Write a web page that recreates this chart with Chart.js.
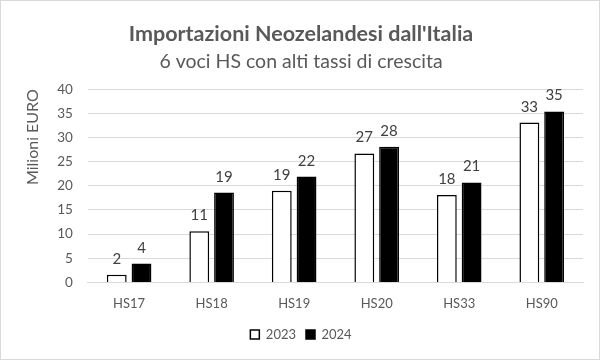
<!DOCTYPE html>
<html>
<head>
<meta charset="utf-8">
<script src="https://cdn.jsdelivr.net/npm/chart.js@4"></script>
<style>
  html, body { margin: 0; padding: 0; background: #fff; }
  #wrap { width: 600px; height: 360px; box-sizing: border-box; border: 1px solid #d9d9d9; }
</style>
</head>
<body>
<div id="wrap"><canvas id="hsChart" width="598" height="358"></canvas></div>
<script>
// ===============================
// Data
// ===============================

const categories = ["HS17", "HS18", "HS19", "HS20", "HS33", "HS90"];
const values2023 = [1.6, 10.6, 19.0, 26.7, 18.1, 33.1];
const values2024 = [3.9, 18.6, 21.9, 28.1, 20.7, 35.4];
const yTicks = [0, 5, 10, 15, 20, 25, 30, 35, 40];

const textGray = "#595959";
const fontFamily = "Lato, 'Open Sans', sans-serif";

// small plugin: value labels above each bar
const barValueLabels = {
    id: "barValueLabels",
    afterDatasetsDraw(chart) {
        const ctx = chart.ctx;
        ctx.save();
        ctx.font = "15px " + fontFamily;
        ctx.fillStyle = "#404040";
        ctx.textAlign = "center";
        ctx.textBaseline = "alphabetic";
        chart.data.datasets.forEach((ds, i) => {
            chart.getDatasetMeta(i).data.forEach((bar, j) => {
                ctx.fillText(Math.round(ds.data[j]), bar.x, bar.y - 11);
            });
        });
        ctx.restore();
    }
};

new Chart(document.getElementById("hsChart"), {
    type: "bar",
    data: {
        labels: categories,
        datasets: [{
            label: "2023",
            data: values2023,
            backgroundColor: "#ffffff",
            borderColor: "#000000",
            borderWidth: 1.5,
            barPercentage: 0.8,
            categoryPercentage: 0.6
        }, {
            label: "2024",
            data: values2024,
            backgroundColor: "#000000",
            borderColor: "#000000",
            borderWidth: 1.5,
            barPercentage: 0.8,
            categoryPercentage: 0.6
        }]
    },
    options: {
        responsive: false,
        animation: false,
        layout: {
            padding: { left: 18, right: 16, top: 10, bottom: 8 }
        },
        plugins: {
            title: {
                display: true,
                text: "Importazioni Neozelandesi dall'Italia",
                color: textGray,
                font: { family: fontFamily, size: 21.5, weight: "bold" },
                padding: { top: 10, bottom: 3 }
            },
            subtitle: {
                display: true,
                text: "6 voci HS con alti tassi di crescita",
                color: textGray,
                font: { family: fontFamily, size: 19.5 },
                padding: { bottom: 16 }
            },
            legend: {
                position: "bottom",
                labels: {
                    color: textGray,
                    boxWidth: 9,
                    boxHeight: 9,
                    padding: 10,
                    font: { family: fontFamily, size: 13 }
                }
            },
            tooltip: { enabled: false }
        },
        scales: {
            x: {
                grid: { display: false },
                border: { color: "#d9d9d9" },
                ticks: {
                    color: textGray,
                    padding: 6,
                    font: { family: fontFamily, size: 13 }
                }
            },
            y: {
                min: 0,
                max: 40,
                afterBuildTicks(axis) {
                    axis.ticks = yTicks.map(v => ({ value: v }));
                },
                grid: { color: "#d9d9d9", drawTicks: false },
                border: { display: false },
                ticks: {
                    color: textGray,
                    padding: 15,
                    font: { family: fontFamily, size: 13.5 }
                },
                title: {
                    display: true,
                    text: "Milioni EURO",
                    align: "end",
                    color: textGray,
                    font: { family: fontFamily, size: 16 },
                    padding: { bottom: 0 }
                }
            }
        }
    },
    plugins: [barValueLabels]
});
</script>
</body>
</html>
